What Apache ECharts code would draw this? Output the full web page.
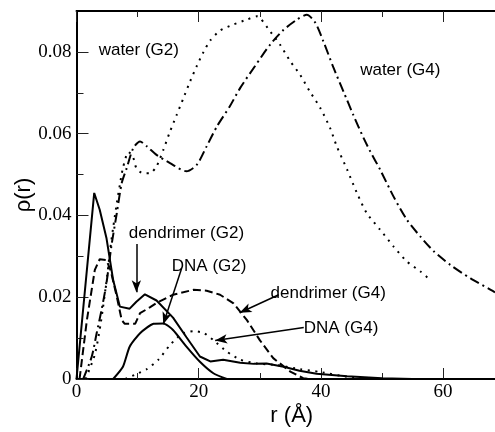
<!DOCTYPE html>
<html>
<head>
<meta charset="utf-8">
<script src="https://cdn.jsdelivr.net/npm/echarts@6/dist/echarts.min.js"></script>
<style>
  html, body { margin: 0; padding: 0; background: #fff; }
  #chart { width: 495px; height: 432px; }
</style>
</head>
<body>
<div id="chart"></div>
<script>
// r (Å), rho(r) pairs
const dendrimerG2 = [
  [0, 0], [2.9, 0.0455], [3.8, 0.0414], [4.9, 0.0345], [6.0, 0.0242], [7.1, 0.0177],
  [8.7, 0.0172], [9.8, 0.0189], [11.2, 0.0207], [13.1, 0.0192], [15.8, 0.0150],
  [18.0, 0.0102], [20.2, 0.0055], [21.9, 0.0043], [24.0, 0.0047], [26.8, 0.0040],
  [29.0, 0.0037], [31.1, 0.0038], [33.9, 0.0030], [36.5, 0.0020], [39.3, 0.0013],
  [44.3, 0.0007], [50, 0.0002], [55, 0]
];
const dnaG2 = [
  [6.0, 0], [7.6, 0.0030], [8.7, 0.0079], [10.4, 0.0112], [12.6, 0.0135], [14.2, 0.0136],
  [15.8, 0.0120], [18.0, 0.0079], [20.2, 0.0042], [22.4, 0.0014], [24.6, 0]
];
const dendrimerG4 = [
  [0.5, 0], [1.7, 0.0144], [3.0, 0.0267], [3.8, 0.0293], [4.9, 0.0291], [5.6, 0.0265],
  [6.6, 0.0201], [7.4, 0.0144], [7.9, 0.0135], [9.6, 0.0135], [10.4, 0.0161], [12.0, 0.0175],
  [13.1, 0.0186], [15.8, 0.0206], [19.1, 0.0218], [21.3, 0.0216], [23.5, 0.0206],
  [25.7, 0.0185], [27.9, 0.0144], [30.0, 0.0095], [32.2, 0.0051], [35.0, 0.0018],
  [37.1, 0.0002], [38, 0], [70, 0]
];
const waterG2 = [
  [1.5, 0], [3.0, 0.006], [4.0, 0.014], [5.0, 0.025], [5.5, 0.0315], [6.0, 0.037],
  [6.6, 0.043], [7.1, 0.0475], [7.6, 0.0516], [8.5, 0.0555], [9.2, 0.0545], [9.8, 0.0516],
  [10.9, 0.0503], [12.0, 0.0503], [13.1, 0.0520], [14.2, 0.0560], [15.3, 0.0605],
  [16.4, 0.0646], [17.5, 0.0687], [18.6, 0.0728], [19.7, 0.0766], [20.8, 0.0800],
  [21.9, 0.0828], [23.5, 0.0852], [25.7, 0.0867], [27.9, 0.0879], [29.5, 0.0887],
  [31.7, 0.0850], [33.3, 0.0818], [35.0, 0.0777], [36.6, 0.0744], [38.2, 0.0703],
  [39.9, 0.0663], [41.5, 0.0614], [42.6, 0.0569], [44.3, 0.0512], [45.9, 0.0455],
  [47.5, 0.0406], [49.7, 0.0365], [51.9, 0.0324], [54.1, 0.0287], [56.3, 0.0263],
  [57.6, 0.0246]
];
const waterG4 = [
  [1.1, 0], [2.5, 0.0055], [3.3, 0.0112], [4.1, 0.0169], [4.9, 0.0234], [5.7, 0.0324],
  [6.6, 0.0406], [7.4, 0.0479], [8.2, 0.0515], [9.3, 0.0565], [10.4, 0.0581],
  [11.5, 0.0569], [13.1, 0.0548], [15.3, 0.0528], [18.0, 0.0508], [19.7, 0.0524],
  [21.3, 0.0569], [23.0, 0.0618], [25.1, 0.0667], [26.8, 0.0712], [29.2, 0.0765],
  [31.7, 0.0818], [33.9, 0.0854], [36.1, 0.0879], [37.7, 0.0891], [39.1, 0.0871],
  [40.4, 0.0826], [42.1, 0.0760], [43.7, 0.0703], [45.3, 0.0646], [47.0, 0.0589],
  [48.1, 0.0556], [49.7, 0.0512], [51.9, 0.0446], [54.1, 0.0389], [56.3, 0.0348],
  [58.5, 0.0312], [61.2, 0.0279], [64.5, 0.0246], [67.8, 0.0218], [68.5, 0.0212]
];
const dnaG4 = [
  [8.0, 0], [9.8, 0.0012], [11.5, 0.0024], [13.4, 0.0047], [15.3, 0.0083], [17.2, 0.0110],
  [19.1, 0.0117], [20.8, 0.0113], [22.4, 0.0095], [24.6, 0.0067], [26.8, 0.0047],
  [29.5, 0.0038], [32.8, 0.0034], [36.6, 0.0024], [39.9, 0.0017], [44, 0.0006], [48, 0]
];

// tick positions
const xMajor = [0, 20, 40, 60];
const xMinor = [10, 30, 50];
const yMajor = [0, 0.02, 0.04, 0.06, 0.08];
const yMinor = [0.01, 0.03, 0.05, 0.07];

// annotation text: [label, r, rho]
const labels = [
  ['water (G2)', 10.2, 0.0805],
  ['water (G4)', 53.0, 0.0756],
  ['dendrimer (G2)', 18.0, 0.0357],
  ['DNA (G2)', 21.7, 0.0275],
  ['dendrimer (G4)', 41.2, 0.0210],
  ['DNA (G4)', 43.3, 0.0124]
];
// arrows: [fromR, fromRho, toR, toRho]
const arrows = [
  [9.8, 0.0330, 9.8, 0.0212],
  [17.2, 0.0270, 14.2, 0.0134],
  [33.1, 0.0206, 26.7, 0.0162],
  [37.2, 0.0126, 22.7, 0.0094]
];

const chart = echarts.init(document.getElementById('chart'));

const serifLabel = {
  fontFamily: '"Liberation Serif", "DejaVu Serif", serif',
  fontSize: 19,
  color: '#000'
};

const tickAxis = (pos, values, len, extra) => Object.assign({
  type: 'value',
  position: pos,
  min: 0,
  max: 68.5,
  offset: 0,
  axisLine: { show: false, onZero: false },
  axisTick: { show: true, inside: true, length: len, customValues: values, lineStyle: { color: '#222', width: 1 } },
  axisLabel: { show: false },
  splitLine: { show: false }
}, extra || {});

const lineSeries = (name, data, type, smooth) => ({
  name,
  type: 'line',
  data,
  symbol: 'none',
  smooth,
  silent: true,
  lineStyle: { color: '#000', width: 2, type, cap: 'butt' },
  z: 3
});

const option = {
  animation: false,
  textStyle: serifLabel,
  grid: { left: 76.5, right: 0, top: 11, bottom: 53, containLabel: false, outerBoundsMode: 'none' },
  xAxis: [
    tickAxis('bottom', xMajor, 11, {
      axisLine: { show: true, onZero: false, lineStyle: { color: '#000', width: 2 } },
      axisLabel: Object.assign({ show: true, customValues: xMajor, margin: 4 }, serifLabel),
      name: 'r (Å)',
      nameLocation: 'middle',
      nameGap: 26,
      nameMoveOverlap: false,
      nameTextStyle: { fontFamily: 'Liberation Sans', fontSize: 22, color: '#000', padding: [0, 0, 0, 12] }
    }),
    tickAxis('bottom', xMinor, 6),
    tickAxis('top', xMajor, 11, {
      axisLine: { show: true, onZero: false, lineStyle: { color: '#000', width: 2 } }
    }),
    tickAxis('top', xMinor, 6)
  ],
  yAxis: [
    {
      type: 'value',
      position: 'left',
      min: 0,
      max: 0.09,
      axisLine: { show: true, onZero: false, lineStyle: { color: '#000', width: 2 } },
      axisTick: { show: true, inside: true, length: 12, customValues: yMajor, lineStyle: { color: '#222', width: 1 } },
      axisLabel: Object.assign({
        show: true,
        customValues: yMajor,
        margin: 5,
        formatter: v => (v === 0 ? '0' : v.toFixed(2))
      }, serifLabel),
      splitLine: { show: false },
      name: 'ρ(r)',
      nameLocation: 'middle',
      nameRotate: 90,
      nameGap: 42,
      nameMoveOverlap: false,
      nameTextStyle: { fontFamily: 'Liberation Sans', fontSize: 22, color: '#000' }
    },
    {
      type: 'value',
      position: 'left',
      min: 0,
      max: 0.09,
      offset: 0,
      axisLine: { show: false, onZero: false },
      axisTick: { show: true, inside: true, length: 7, customValues: yMinor, lineStyle: { color: '#222', width: 1 } },
      axisLabel: { show: false },
      splitLine: { show: false }
    }
  ],
  series: [
    lineSeries('dendrimer (G2)', dendrimerG2, 'solid', false),
    lineSeries('DNA (G2)', dnaG2, 'solid', 0.2),
    lineSeries('dendrimer (G4)', dendrimerG4, [8, 4], false),
    lineSeries('water (G2)', waterG2, [2, 5.5], 0.25),
    lineSeries('water (G4)', waterG4, [10, 4, 2, 4], 0.25),
    lineSeries('DNA (G4)', dnaG4, [2, 5.5], 0.2),
    {
      name: 'notes',
      type: 'line',
      data: [],
      silent: true,
      z: 5,
      markPoint: {
        symbol: 'circle',
        symbolSize: 1,
        itemStyle: { color: 'rgba(0,0,0,0)' },
        label: {
          show: true,
          position: 'inside',
          formatter: p => p.name,
          fontFamily: 'Liberation Sans',
          fontSize: 17,
          color: '#000'
        },
        data: labels.map(([name, r, v]) => ({ name, coord: [r, v] }))
      },
      markLine: {
        silent: true,
        symbol: ['none', 'arrow'],
        symbolSize: [7, 12],
        label: { show: false },
        lineStyle: { color: '#000', width: 1.5, type: 'solid' },
        emphasis: { disabled: true },
        data: arrows.map(([r0, v0, r1, v1]) => [{ coord: [r0, v0] }, { coord: [r1, v1] }])
      }
    }
  ]
};

chart.setOption(option);
</script>
</body>
</html>
